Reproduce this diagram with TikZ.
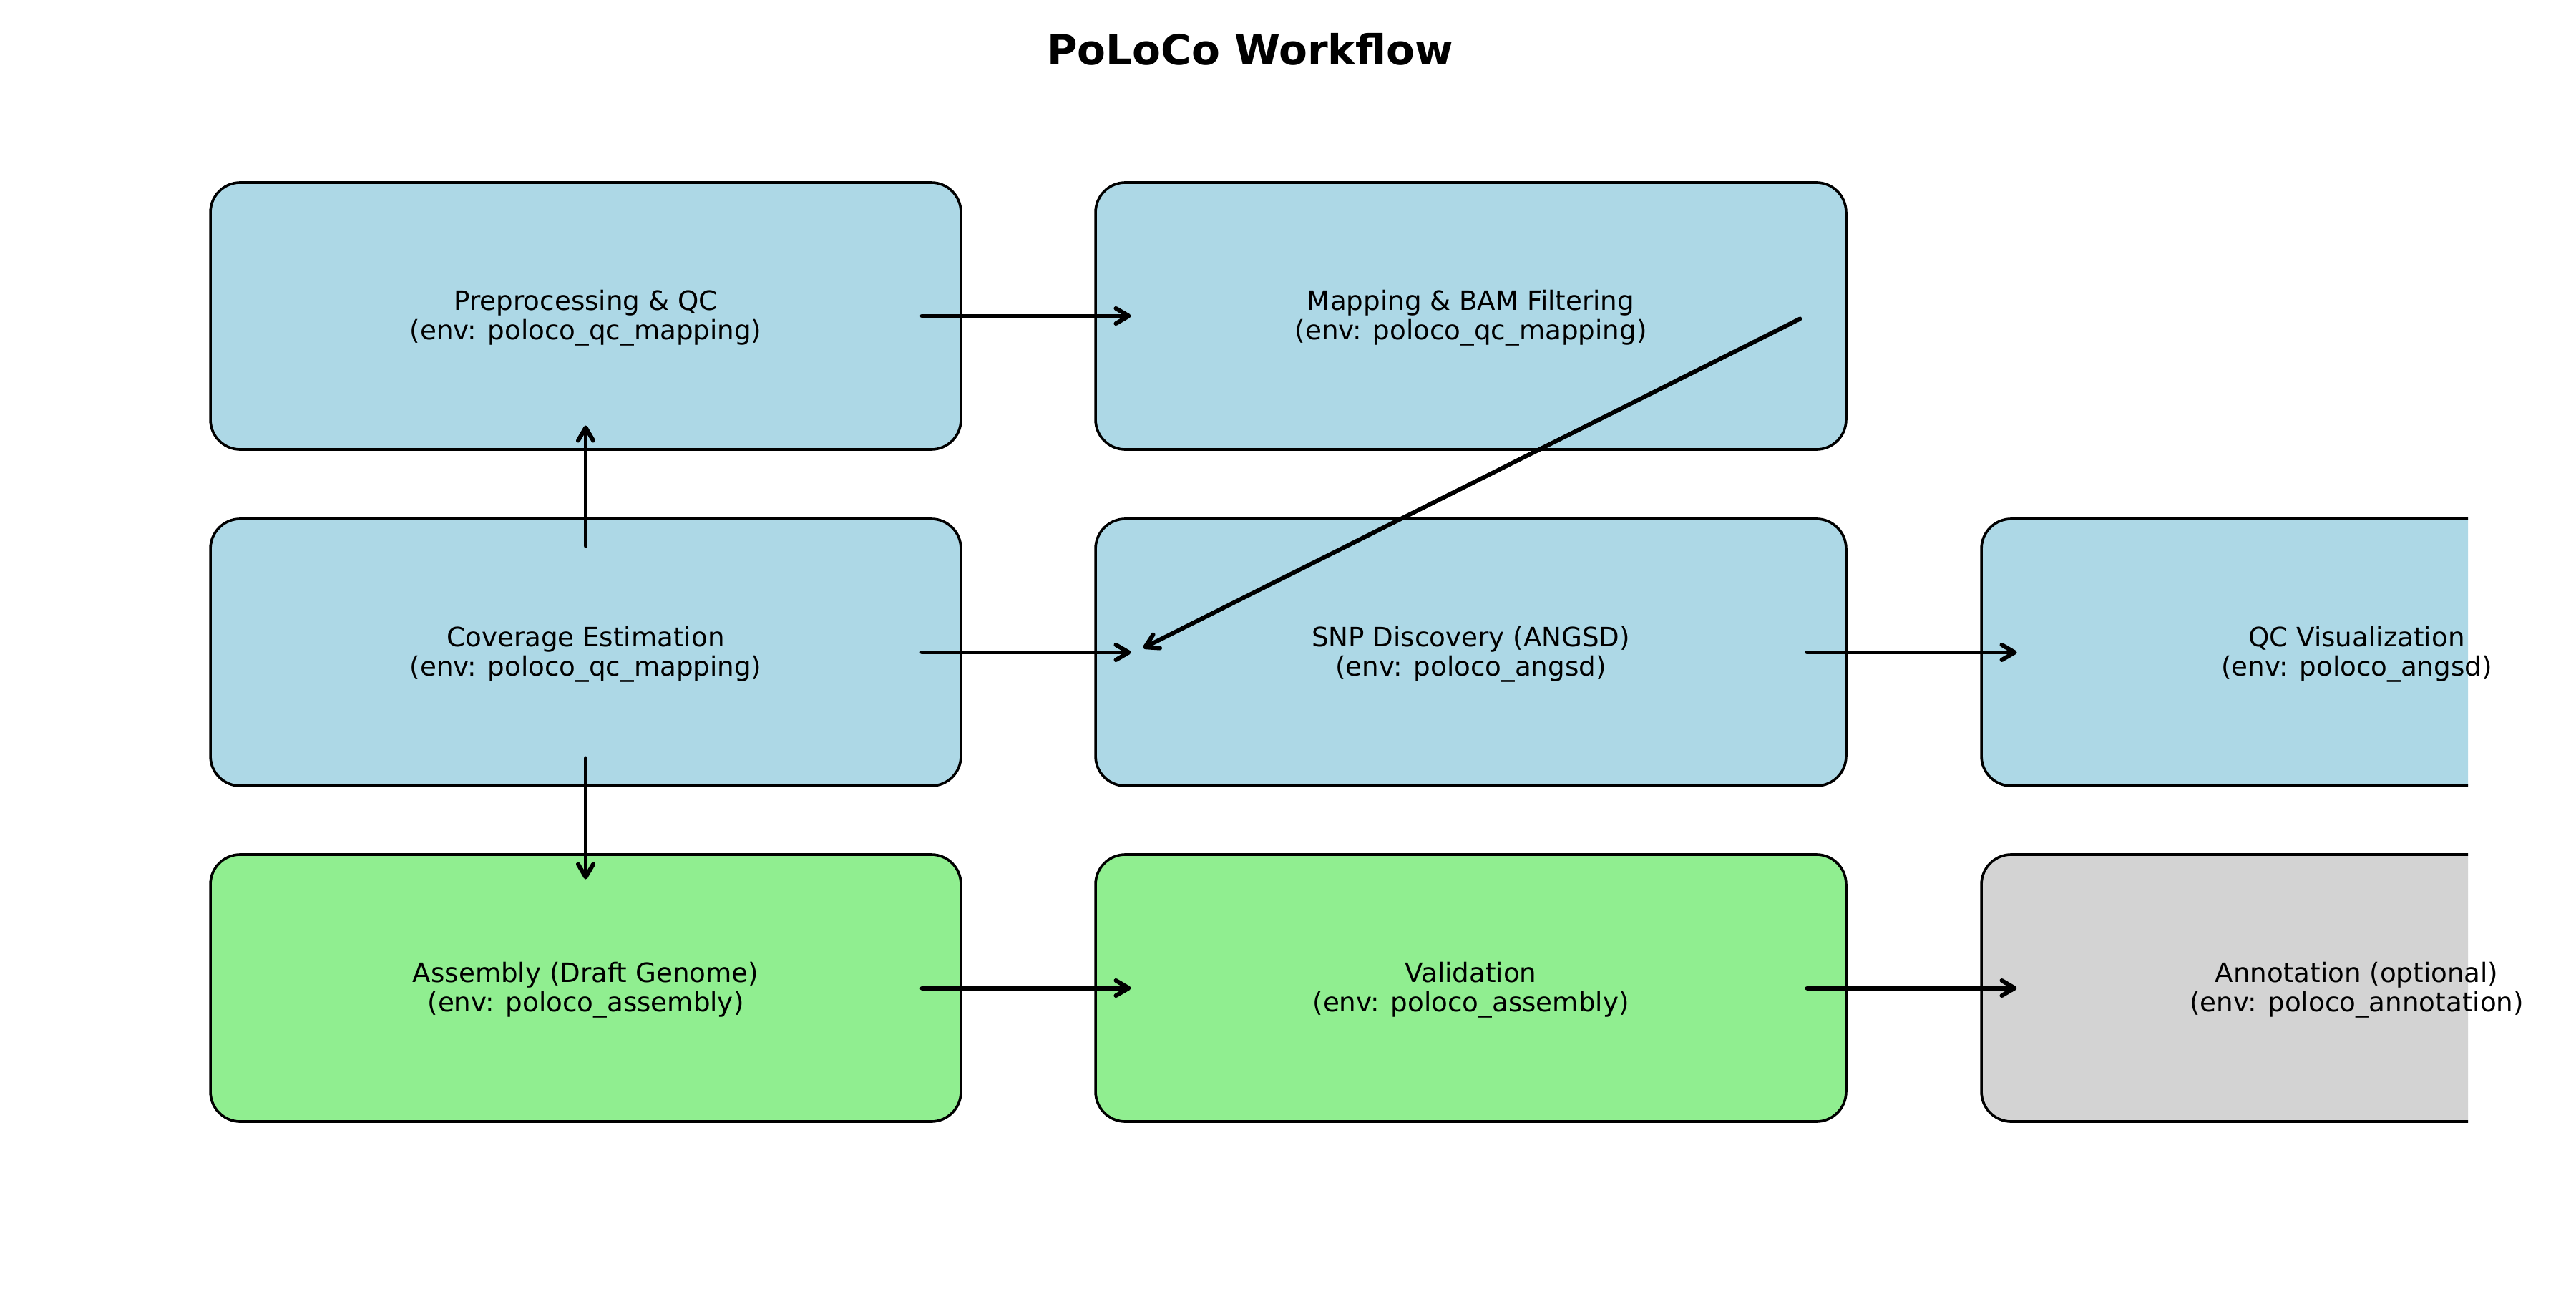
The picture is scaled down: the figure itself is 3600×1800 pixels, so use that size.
\documentclass[tikz,border=0pt]{standalone}
\usepackage{fontspec}
\setmainfont{DejaVu Sans}
\usetikzlibrary{arrows.meta,calc}
\definecolor{lblue}{HTML}{ADD8E6}
\definecolor{lgreen}{HTML}{90EE90}
\definecolor{lgray}{HTML}{D3D3D3}
\begin{document}
\begin{tikzpicture}[x=0.36pt,y=-0.36pt,
  stepbox/.style={draw=black,line width=1.3pt,rounded corners=15pt,minimum width=377.6pt,minimum height=134.3pt,inner sep=0pt},
  steptext/.style={align=center,font=\fontsize{13.4pt}{14.8pt}\selectfont,inner sep=0pt,yshift=-1.1pt},
  arr/.style={line width=2.15pt,line cap=round,-{Straight Barb[length=6.5pt,width=7.6pt,round]}}]
\useasboundingbox (0,0) rectangle (3600,1800);
\node[font=\fontsize{20.9pt}{24pt}\selectfont\bfseries,anchor=base] (title) at (1747,90) {PoLoCo Workflow};
\begin{scope}
\clip (0,0) rectangle (3449,1800);
\node[stepbox,fill=lblue] (pre) at (818.5,441.5) {};
\node[stepbox,fill=lblue] (map) at (2055.5,441.5) {};
\node[stepbox,fill=lblue] (cov) at (818.5,911.5) {};
\node[stepbox,fill=lblue] (snp) at (2055.5,911.5) {};
\node[stepbox,fill=lblue] (qcv) at (3293.5,911.5) {};
\node[stepbox,fill=lgreen] (asm) at (818.5,1380.5) {};
\node[stepbox,fill=lgreen] (val) at (2055.5,1380.5) {};
\node[stepbox,fill=lgray] (ann) at (3293.5,1380.5) {};
\end{scope}
\node[steptext] (preT) at (pre.center) {Preprocessing \& QC\\(env: poloco\_qc\_mapping)};
\node[steptext] (mapT) at (map.center) {Mapping \& BAM Filtering\\(env: poloco\_qc\_mapping)};
\node[steptext] (covT) at (cov.center) {Coverage Estimation\\(env: poloco\_qc\_mapping)};
\node[steptext] (snpT) at (snp.center) {SNP Discovery (ANGSD)\\(env: poloco\_angsd)};
\node[steptext] (qcvT) at (qcv.center) {QC Visualization\\(env: poloco\_angsd)};
\node[steptext] (asmT) at (asm.center) {Assembly (Draft Genome)\\(env: poloco\_assembly)};
\node[steptext] (valT) at (val.center) {Validation\\(env: poloco\_assembly)};
\node[steptext] (annT) at (ann.center) {Annotation (optional)\\(env: poloco\_annotation)};
% horizontal
\draw[arr] ($(pre.center)+(470,0)$) -- ($(map.center)+(-475,0)$);
\draw[arr] ($(cov.center)+(470,0)$) -- ($(snp.center)+(-475,0)$);
\draw[arr] ($(snp.center)+(470,0)$) -- ($(qcv.center)+(-475,0)$);
\draw[arr] ($(asm.center)+(470,0)$) -- ($(val.center)+(-475,0)$);
\draw[arr] ($(val.center)+(470,0)$) -- ($(ann.center)+(-475,0)$);
% vertical
\draw[arr] ($(cov.center)+(0,-149)$) -- ($(pre.center)+(0,153)$);
\draw[arr] ($(cov.center)+(0,148)$) -- ($(asm.center)+(0,-152)$);
% diagonal
\draw[arr] ($(map.center)+(460,4)$) -- ($(snp.center)+(-458,-6)$);
\end{tikzpicture}
\end{document}
